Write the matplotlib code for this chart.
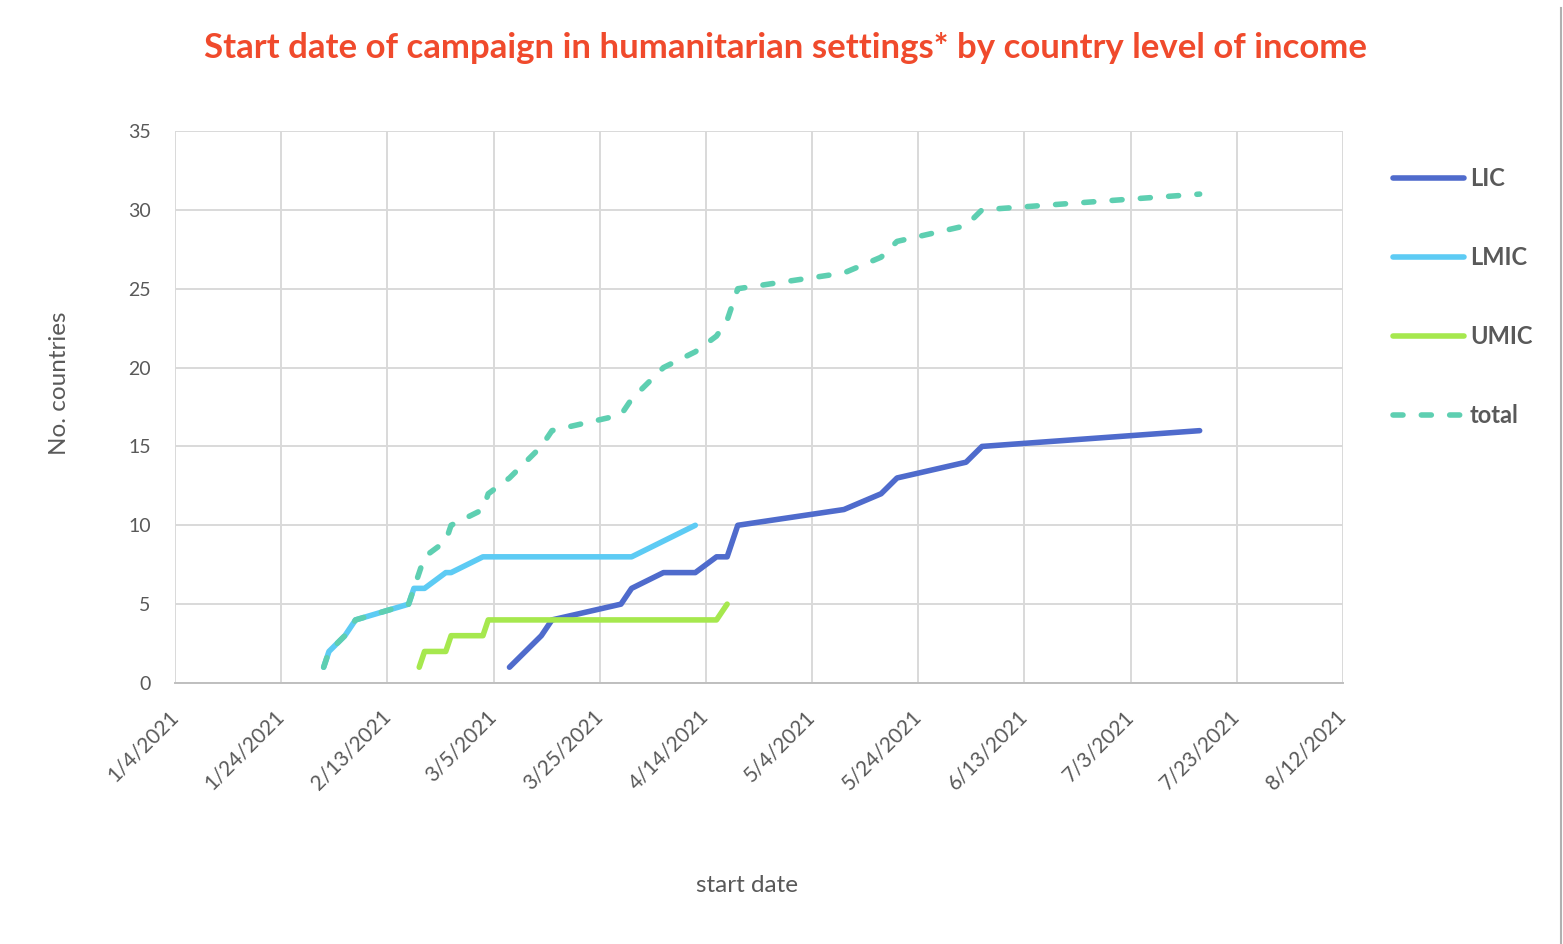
import datetime as dt
import matplotlib
matplotlib.use("Agg")
import matplotlib.pyplot as plt
from matplotlib.lines import Line2D

# Dane (daty startu kampanii, liczba krajow narastajaco)
lic_daty = ["2021-03-08", "2021-03-14", "2021-03-16", "2021-03-29", "2021-03-31",
            "2021-04-06", "2021-04-12", "2021-04-16", "2021-04-18", "2021-04-20",
            "2021-05-10", "2021-05-17", "2021-05-20", "2021-06-02", "2021-06-05",
            "2021-07-16"]
lic_liczba = [1, 3, 4, 5, 6, 7, 7, 8, 8, 10, 11, 12, 13, 14, 15, 16]

lmic_daty = ["2021-02-01", "2021-02-02", "2021-02-05", "2021-02-07", "2021-02-17",
             "2021-02-18", "2021-02-20", "2021-02-24", "2021-02-25", "2021-03-03",
             "2021-03-31", "2021-04-06", "2021-04-12"]
lmic_liczba = [1, 2, 3, 4, 5, 6, 6, 7, 7, 8, 8, 9, 10]

umic_daty = ["2021-02-19", "2021-02-20", "2021-02-24", "2021-02-25", "2021-03-03",
             "2021-03-04", "2021-04-16", "2021-04-18"]
umic_liczba = [1, 2, 2, 3, 3, 4, 4, 5]

total_daty = ["2021-02-01", "2021-02-02", "2021-02-05", "2021-02-07", "2021-02-17",
              "2021-02-18", "2021-02-19", "2021-02-20", "2021-02-24", "2021-02-25",
              "2021-03-03", "2021-03-04", "2021-03-08", "2021-03-14", "2021-03-16",
              "2021-03-29", "2021-03-31", "2021-04-06", "2021-04-12", "2021-04-16",
              "2021-04-18", "2021-04-20", "2021-05-10", "2021-05-17", "2021-05-20",
              "2021-06-02", "2021-06-05", "2021-07-16"]
total_liczba = [1, 2, 3, 4, 5, 6, 7, 8, 9, 10, 11, 12, 13, 15, 16, 17, 18, 20, 21,
                22, 23, 25, 26, 27, 28, 29, 30, 31]

os_x_start = "2021-01-04"
os_x_krok_dni = 20
os_x_liczba_tickow = 12
os_y_ticki = [0, 5, 10, 15, 20, 25, 30, 35]

SZARY = "#595959"
FONT = "Lato"


def na_daty(lista):
    return [dt.datetime.strptime(s, "%Y-%m-%d") for s in lista]


def rysuj():
    plt.rcParams["font.family"] = [FONT, "DejaVu Sans"]
    fig = plt.figure(figsize=(15.63, 9.44), dpi=100)
    ax = fig.add_axes([175 / 1563, 1 - 683 / 944, (1343 - 175) / 1563, (683 - 131) / 944])

    lw = 4.0
    ax.plot(na_daty(lic_daty), lic_liczba, color="#4F6BCC", lw=lw,
            solid_capstyle="round", solid_joinstyle="round", label="LIC", zorder=3)
    ax.plot(na_daty(lmic_daty), lmic_liczba, color="#5DCBF4", lw=lw,
            solid_capstyle="round", solid_joinstyle="round", label="LMIC", zorder=3)
    ax.plot(na_daty(umic_daty), umic_liczba, color="#A6E84E", lw=lw,
            solid_capstyle="round", solid_joinstyle="round", label="UMIC", zorder=3)
    ax.plot(na_daty(total_daty), total_liczba, color="#5ECFB1", lw=lw,
            dashes=(1.8, 3.3), dash_capstyle="round", label="total", zorder=4)

    start = dt.datetime.strptime(os_x_start, "%Y-%m-%d")
    ticki = [start + dt.timedelta(days=os_x_krok_dni * i) for i in range(os_x_liczba_tickow)]
    ax.set_xlim(ticki[0], ticki[-1])
    ax.set_xticks(ticki)
    ax.set_xticklabels([f"{t.month}/{t.day}/{t.year}" for t in ticki],
                       rotation=45, ha="right", va="center", rotation_mode="anchor")
    ax.set_ylim(0, 35)
    ax.set_yticks(os_y_ticki)

    ax.tick_params(axis="both", length=0, labelcolor=SZARY)
    ax.tick_params(axis="x", pad=22, labelsize=15)
    ax.tick_params(axis="y", pad=17.5, labelsize=14)
    ax.grid(True, color="#D9D9D9", lw=1.4)
    for s in ["top", "right", "left"]:
        ax.spines[s].set_visible(False)
    ax.spines["bottom"].set_color("#BFBFBF")
    ax.spines["bottom"].set_linewidth(1.4)
    ax.set_axisbelow(True)

    fig.text(786 / 1563, 1 - 48 / 944,
             "Start date of campaign in humanitarian settings* by country level of income",
             ha="center", va="center", fontsize=25, fontweight="bold", color="#F04A2C")
    fig.text(60 / 1563, 1 - 383 / 944, "No. countries", rotation=90,
             ha="center", va="center", fontsize=17.5, color=SZARY)
    fig.text(747 / 1563, 1 - 886 / 944, "start date",
             ha="center", va="center", fontsize=17.5, color=SZARY)

    leg = ax.legend(loc="upper left", bbox_to_anchor=(1372 / 1563, 1 - 146 / 944),
                    bbox_transform=fig.transFigure, frameon=False,
                    handlelength=3.0, handletextpad=0.25, labelspacing=2.37,
                    prop={"family": FONT, "weight": "bold", "size": 17})
    for t in leg.get_texts():
        t.set_color(SZARY)

    # cien ramki po prawej
    fig.add_artist(Line2D([1561 / 1563, 1561 / 1563], [0, 1 - 8 / 944],
                          transform=fig.transFigure, color="#B0B0B0", lw=1.5))

    fig.savefig("out.png", dpi=100)


if __name__ == "__main__":
    rysuj()
